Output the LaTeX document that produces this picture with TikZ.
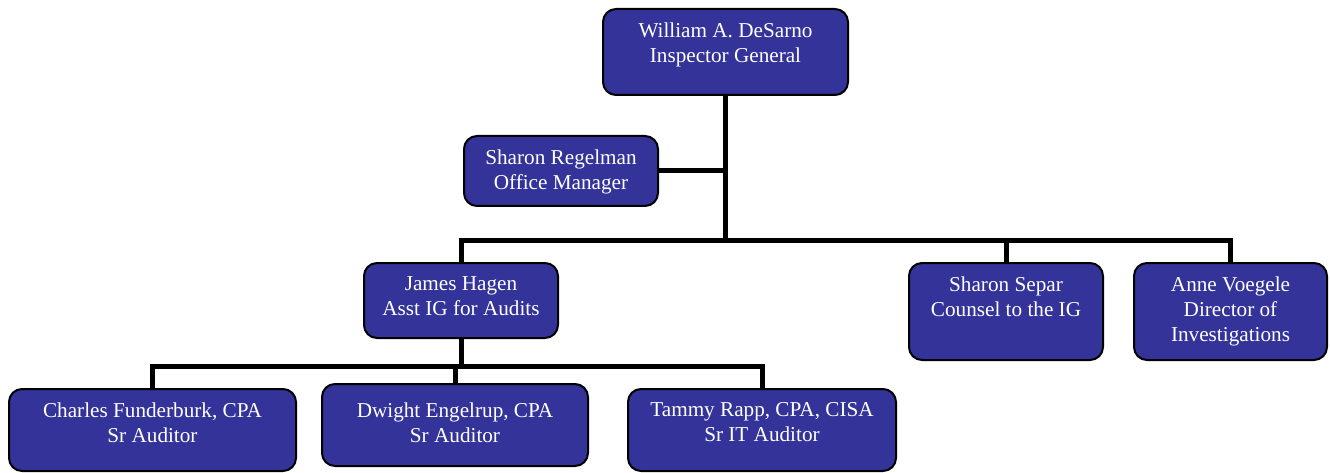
\documentclass[tikz,border=0pt]{standalone}
\usepackage{fontspec}
\setmainfont{Liberation Serif}
\usetikzlibrary{backgrounds}
\definecolor{boxblue}{HTML}{333399}
\newcommand\orgbox[7][14.5]{%
  \pgfmathsetmacro\obx{(#3+#5)/2}\pgfmathsetmacro\oby{(#4+#6)/2}%
  \pgfmathsetmacro\obw{#5-#3-2}\pgfmathsetmacro\obh{#6-#4-2}%
  \node[orgnode,minimum width=\obw pt,minimum height=\obh pt] (#2) at (\obx,\oby) {};
  \node[orgtext] (#2-t) at ([yshift=-#1pt]#2.north) {#7};}
\tikzset{
  orgnode/.style={draw=black,line width=2pt,fill=boxblue,rounded corners=13pt,inner sep=0pt,rectangle},
  orgtext/.style={anchor=north,inner sep=0pt,align=center,text=white,font=\fontsize{21.2}{25}\selectfont},
  conn/.style={line width=5pt,draw=black,line join=miter}
}
\begin{document}
\begin{tikzpicture}[x=1pt,y=-1pt]
\useasboundingbox (0,0) rectangle (1330,473);
\orgbox{ig}{602}{8}{849}{96}{William A. DeSarno\\Inspector General}
\orgbox{om}{463}{135}{659}{207}{Sharon Regelman\\Office Manager}
\orgbox{hagen}{363}{262}{559}{339}{James Hagen\\Asst IG for Audits}
\orgbox{separ}{908}{262}{1104}{361}{Sharon Separ\\Counsel to the IG}
\orgbox{anne}{1133}{262}{1328}{361}{Anne Voegele\\Director of\\Investigations}
\orgbox{charles}{8}{388}{297}{472}{Charles Funderburk, CPA\\Sr Auditor}
\orgbox[19.5]{dwight}{321}{383}{589}{467}{Dwight Engelrup, CPA\\Sr Auditor}
\orgbox{tammy}{627}{388}{897}{472}{Tammy Rapp, CPA, CISA\\Sr IT Auditor}
\coordinate (bar) at (725.5,240);
\coordinate (lowbar) at (461,366);
\begin{pgfonlayer}{background}
\draw[conn] (ig.south) -- (ig.south |- bar);
\draw[conn] (om.east) -- (om.east -| ig.south);
\draw[conn] (hagen.north) -- (hagen.north |- bar) -- (anne.north |- bar) -- (anne.north);
\draw[conn] (separ.north) -- (separ.north |- bar);
\draw[conn] (hagen.south) -- (lowbar);
\draw[conn] (charles.north) -- (charles.north |- lowbar) -- (tammy.north |- lowbar) -- (tammy.north);
\draw[conn] (dwight.north) -- (dwight.north |- lowbar);
\end{pgfonlayer}
\end{tikzpicture}
\end{document}
